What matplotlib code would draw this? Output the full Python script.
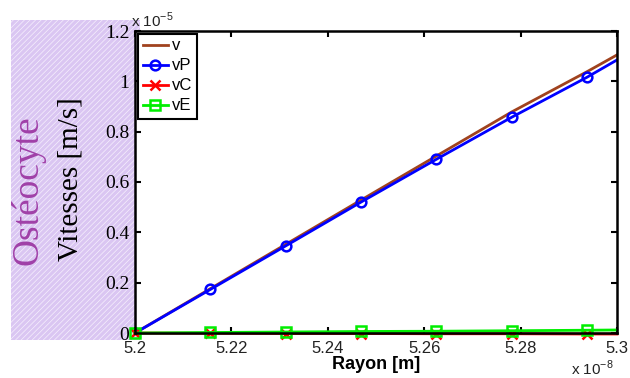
import matplotlib
matplotlib.use("Agg")
import matplotlib.pyplot as plt
from matplotlib.patches import Rectangle

# Data (x in units of 1e-8 m, velocities in units of 1e-5 m/s)
rayon = [5.2, 5.215625, 5.23125, 5.246875, 5.2625, 5.278125, 5.29375, 5.3]
v  = [0.0, 0.176, 0.352, 0.528, 0.703, 0.878, 1.038, 1.105]
vP = [0.0, 0.173, 0.346, 0.520, 0.690, 0.857, 1.016, 1.085]
vC = [0.0, -0.001, -0.002, -0.002, -0.003, -0.003, -0.004, -0.004]
vE = [0.0, 0.002, 0.004, 0.006, 0.007, 0.009, 0.011, 0.012]
xticks = [5.2, 5.22, 5.24, 5.26, 5.28, 5.3]
xticklabels = ["5.2", "5.22", "5.24", "5.26", "5.28", "5.3"]
yticks = [0, 0.2, 0.4, 0.6, 0.8, 1.0, 1.2]
yticklabels = ["0", "0.2", "0.4", "0.6", "0.8", "1", "1.2"]

plt.rcParams['hatch.linewidth'] = 0.5
fig = plt.figure(figsize=(6.3, 3.78), dpi=100)

# hatched purple panel on the left
bg = Rectangle((11/630, 1-340/378), (140-11)/630, (340-20)/378, transform=fig.transFigure,
               facecolor="#dac6f2", edgecolor="#f6f0fd", hatch="//////", linewidth=0, zorder=-5)
fig.patches.append(bg)

ax = fig.add_axes([135/630, 1-333/378, (617-135)/630, (333-31)/378])
ax.set_zorder(3)
ax.set_facecolor("white")

n = len(rayon) - 1
ax.plot(rayon, v, color="#a0421e", lw=2, label="v")
ax.plot(rayon, vP, color="#0000ff", lw=2, marker="o", markersize=7, markerfacecolor="none",
        markeredgewidth=1.8, markevery=list(range(n)), label="vP")
ax.plot(rayon, vC, color="#ff0000", lw=2, marker="x", markersize=7, clip_on=False,
        markeredgewidth=1.8, markevery=list(range(n)), label="vC")
ax.plot(rayon, vE, color="#00ee00", lw=2, marker="s", markersize=7, markerfacecolor="none",
        clip_on=False, markeredgewidth=1.8, markevery=list(range(n)), label="vE")

ax.set_xlim(5.2, 5.3)
ax.set_ylim(0, 1.2)
ax.set_xticks(xticks)
ax.set_xticklabels(xticklabels, fontsize=12, family="Liberation Sans", color="#222222")
ax.set_yticks(yticks)
ax.set_yticklabels(yticklabels, fontsize=14, family="Liberation Serif")
ax.tick_params(direction="in", length=4, width=1.5, top=True, right=True)
ax.tick_params(axis="x", pad=6)
ax.tick_params(axis="y", pad=4)
for s in ax.spines.values():
    s.set_linewidth(1.8)

ax.set_xlabel("Rayon [m]", fontsize=13, fontweight="bold", family="Liberation Sans", labelpad=0)

leg = ax.legend(loc="upper left", prop={"family": "Liberation Sans", "size": 12},
                frameon=True, fancybox=False, edgecolor="black", handlelength=1.5,
                handletextpad=0.25, borderpad=0.3, labelspacing=0.3,
                borderaxespad=0.15, framealpha=1)
leg.get_frame().set_linewidth(1.5)

fig.text(28/630, 1-190/378, "Ostéocyte", rotation=90, ha="center", va="center",
         fontsize=27, color="#a040a8", family="Liberation Serif")
fig.text(71/630, 1-179/378, "Vitesses [m/s]", rotation=90, ha="center", va="center",
         fontsize=21, color="black", family="Liberation Serif")

fig.text(131/630, 1-20/378, r"x 10$^{\mathdefault{-5}}$", ha="left", va="center", fontsize=11,
         family="Liberation Sans", color="#222222")
fig.text(571/630, 1-368/378, r"x 10$^{\mathdefault{-8}}$", ha="left", va="center", fontsize=11,
         family="Liberation Sans", color="#222222")

fig.savefig("out.png", dpi=100, facecolor="white")
